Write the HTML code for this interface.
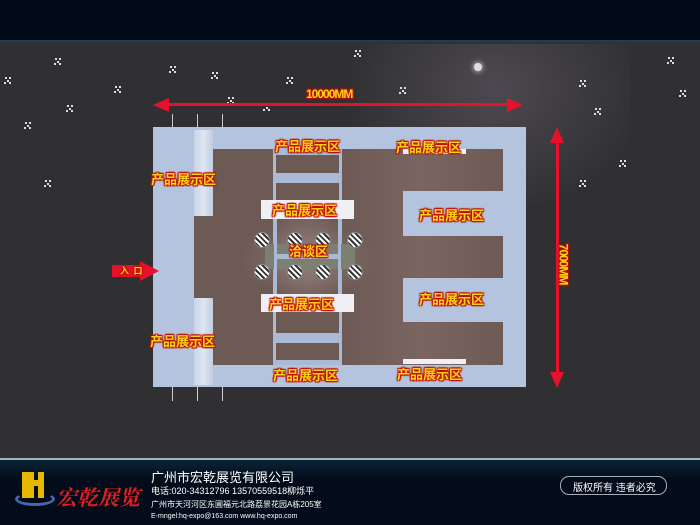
<!DOCTYPE html>
<html><head><meta charset="utf-8"><style>
*{margin:0;padding:0;box-sizing:border-box}
body{width:700px;height:525px;overflow:hidden;background:#303032;font-family:"Liberation Sans","Noto Sans CJK SC",sans-serif;position:relative}
div{position:absolute}
.hdr{left:0;top:0;width:700px;height:42px;background:#020b18;border-bottom:2px solid #1d3f55}
.L{background:#b4c4de}
.B{background:#6e5a55}
.W{background:#eef0f6}
.lab{font-size:13px;font-weight:bold;color:#ffd21a;text-shadow:0 0 2px #c01000,1px 1px 1px #c01000,-1px -1px 1px #c01000,1px -1px 1px #c01000,-1px 1px 1px #c01000;white-space:nowrap}
.dot{width:2px;height:2px;background:#ddd;box-shadow:4px 0 #ddd,2px 3px #ddd,-1px 5px #ddd,4px 5px #ddd}
.ch{width:16px;height:16px;border-radius:50%;border:1px solid #888;background:repeating-linear-gradient(45deg,#fff 0 2px,#333 2px 4px)}
.ftr{left:0;top:458px;width:700px;height:67px;background:linear-gradient(#0b2436,#020c1a 30%,#020c1a);border-top:2px solid #9fb3c2}
.ft{color:#fff;white-space:nowrap}
</style></head><body>
<div class="hdr"></div>
<div style="left:330px;top:44px;width:300px;height:180px;background:radial-gradient(ellipse at 55% 25%,rgba(120,110,125,.4),rgba(0,0,0,0) 65%)"></div>
<div style="left:474px;top:63px;width:8px;height:8px;border-radius:50%;background:#ddd;box-shadow:0 0 6px #fff"></div>
<div class="dot" style="left:55px;top:58px"></div><div class="dot" style="left:170px;top:66px"></div><div class="dot" style="left:355px;top:50px"></div><div class="dot" style="left:287px;top:77px"></div><div class="dot" style="left:115px;top:86px"></div><div class="dot" style="left:228px;top:97px"></div><div class="dot" style="left:400px;top:87px"></div><div class="dot" style="left:580px;top:80px"></div><div class="dot" style="left:668px;top:57px"></div><div class="dot" style="left:680px;top:90px"></div><div class="dot" style="left:67px;top:105px"></div><div class="dot" style="left:595px;top:108px"></div><div class="dot" style="left:5px;top:77px"></div><div class="dot" style="left:25px;top:122px"></div><div class="dot" style="left:580px;top:180px"></div><div class="dot" style="left:45px;top:180px"></div><div class="dot" style="left:620px;top:160px"></div><div class="dot" style="left:212px;top:72px"></div><div class="dot" style="left:264px;top:104px"></div>
<!-- dimension arrows -->
<div style="left:165px;top:103px;width:348px;height:3px;background:#e8112b"></div>
<div style="left:153px;top:98px;width:0;height:0;border-top:7px solid transparent;border-bottom:7px solid transparent;border-right:16px solid #e8112b"></div>
<div style="left:507px;top:98px;width:0;height:0;border-top:7px solid transparent;border-bottom:7px solid transparent;border-left:16px solid #e8112b"></div>
<div class="lab" style="left:306px;top:87px;font-size:12px;letter-spacing:-1px">10000MM</div>
<div style="left:556px;top:140px;width:3px;height:236px;background:#e8112b"></div>
<div style="left:550px;top:127px;width:0;height:0;border-left:7px solid transparent;border-right:7px solid transparent;border-bottom:16px solid #e8112b"></div>
<div style="left:550px;top:372px;width:0;height:0;border-left:7px solid transparent;border-right:7px solid transparent;border-top:16px solid #e8112b"></div>
<div class="lab" style="left:543px;top:257px;font-size:12px;letter-spacing:-1px;transform:rotate(90deg)">7000MM</div>
<!-- poles -->
<div style="left:172px;top:114px;width:1px;height:14px;background:#ccc"></div><div style="left:197px;top:114px;width:1px;height:14px;background:#ccc"></div><div style="left:222px;top:114px;width:1px;height:14px;background:#ccc"></div>
<div style="left:172px;top:387px;width:1px;height:14px;background:#ccc"></div><div style="left:197px;top:387px;width:1px;height:14px;background:#ccc"></div><div style="left:222px;top:387px;width:1px;height:14px;background:#ccc"></div>
<!-- floor -->
<div class="L" style="left:153px;top:127px;width:373px;height:260px"></div>
<div style="left:194px;top:130px;width:19px;height:255px;background:linear-gradient(90deg,#c8d4e8,#dfe6f2,#c0cde3)"></div>
<div class="B" style="left:213px;top:149px;width:60px;height:216px"></div>
<div class="B" style="left:194px;top:216px;width:19px;height:82px"></div>
<div class="B" style="left:342px;top:149px;width:161px;height:216px;background:linear-gradient(90deg,#6e5a55,#7a6560 50%,#6e5a55)"></div>
<div class="L" style="left:403px;top:191px;width:100px;height:45px"></div>
<div class="L" style="left:403px;top:278px;width:100px;height:44px"></div>
<div class="W" style="left:403px;top:149px;width:63px;height:5px"></div>
<div class="W" style="left:403px;top:359px;width:63px;height:5px"></div>
<!-- middle column -->
<div class="L" style="left:273px;top:149px;width:69px;height:216px;background:#a9bad6"></div>
<div class="B" style="left:276px;top:155px;width:63px;height:18px"></div>
<div class="B" style="left:276px;top:183px;width:63px;height:17px"></div>
<div class="B" style="left:276px;top:219px;width:63px;height:75px;background:radial-gradient(ellipse,#8a7874,#6e5a55)"></div>
<div class="B" style="left:276px;top:312px;width:63px;height:21px"></div>
<div class="B" style="left:276px;top:343px;width:63px;height:17px"></div>
<div style="left:238px;top:225px;width:140px;height:70px;border-radius:50%;background:radial-gradient(ellipse,rgba(150,130,125,.6),rgba(110,90,85,0) 70%)"></div>
<div style="left:265px;top:244px;width:90px;height:25px;background:#7d7f70"></div>
<div class="L" style="left:274px;top:219px;width:3px;height:75px;background:#a9bad6"></div>
<div class="L" style="left:338px;top:219px;width:3px;height:75px;background:#a9bad6"></div>
<div class="L" style="left:276px;top:254px;width:63px;height:5px;background:#a9bad6"></div>
<div class="W" style="left:261px;top:200px;width:93px;height:19px"></div>
<div class="W" style="left:261px;top:294px;width:93px;height:18px"></div>
<div class="ch" style="left:254px;top:232px"></div><div class="ch" style="left:287px;top:232px"></div><div class="ch" style="left:315px;top:232px"></div><div class="ch" style="left:347px;top:232px"></div>
<div class="ch" style="left:254px;top:264px"></div><div class="ch" style="left:287px;top:264px"></div><div class="ch" style="left:315px;top:264px"></div><div class="ch" style="left:347px;top:264px"></div>
<!-- entrance -->
<div style="left:112px;top:265px;width:30px;height:12px;background:#e8112b"></div>
<div style="left:140px;top:261px;width:0;height:0;border-top:10px solid transparent;border-bottom:10px solid transparent;border-left:19px solid #e8112b"></div>
<div class="lab" style="left:120px;top:264px;font-size:9px;letter-spacing:1px">入 口</div>
<!-- labels -->
<div class="lab" style="left:275px;top:136px">产品展示区</div>
<div class="lab" style="left:396px;top:137px">产品展示区</div>
<div class="lab" style="left:151px;top:169px">产品展示区</div>
<div class="lab" style="left:272px;top:200px">产品展示区</div>
<div class="lab" style="left:419px;top:205px">产品展示区</div>
<div class="lab" style="left:289px;top:241px">洽谈区</div>
<div class="lab" style="left:419px;top:289px">产品展示区</div>
<div class="lab" style="left:269px;top:294px">产品展示区</div>
<div class="lab" style="left:150px;top:331px">产品展示区</div>
<div class="lab" style="left:273px;top:365px">产品展示区</div>
<div class="lab" style="left:397px;top:364px">产品展示区</div>
<!-- footer -->
<div class="ftr"></div>
<div style="left:22px;top:472px;width:12px;height:26px;background:#e6b800"></div>
<div style="left:33px;top:480px;width:6px;height:6px;background:#e6b800"></div>
<div style="left:38px;top:472px;width:6px;height:26px;background:#e6b800"></div>
<div style="left:15px;top:492px;width:40px;height:14px;border-radius:50%;border:3px solid #4a64b0;border-top-color:transparent"></div>
<div class="ft" style="left:56px;top:482px;color:#e02020;font-size:21px;font-family:'Noto Serif CJK SC',serif;font-weight:bold;font-style:italic">宏乾展览</div>
<div class="ft" style="left:151px;top:467px;font-size:13px">广州市宏乾展览有限公司</div>
<div class="ft" style="left:151px;top:484px;font-size:9px">电话:020-34312796 13570559518柳烁平</div>
<div class="ft" style="left:151px;top:499px;font-size:8px">广州市天河河区东圃福元北路荔景花园A栋205室</div>
<div class="ft" style="left:151px;top:513px;font-size:7px">E-mngel:hq-expo@163.com  www.hq-expo.com</div>
<div style="left:560px;top:476px;width:107px;height:19px;border:1px solid #aab;border-radius:9px"></div>
<div class="ft" style="left:573px;top:479px;font-size:10px">版权所有 违者必究</div>
</body></html>
